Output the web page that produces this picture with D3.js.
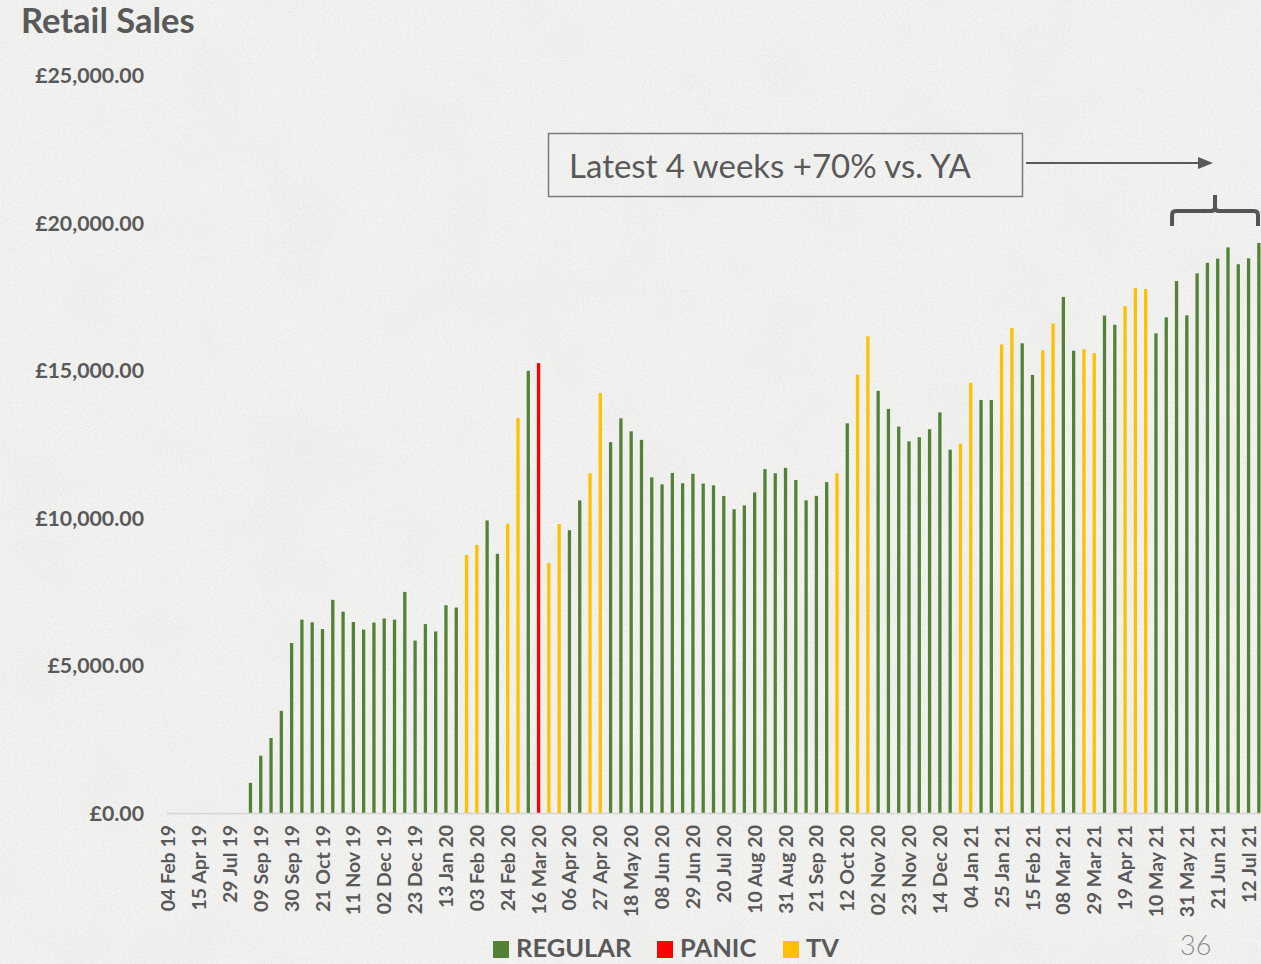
<!DOCTYPE html>
<html>
<head>
<meta charset="utf-8">
<script src="https://cdn.jsdelivr.net/npm/d3@7"></script>
<style>
  body { margin: 0; background: #f2f2f1; }
  svg { display: block; }
</style>
</head>
<body>
<svg id="chart" width="1261" height="964"></svg>
<script>
// ---- Data -------------------------------------------------------------
// Early reporting dates (irregular), then weekly from 02 Sep 19.
const earlyWeeks = ["2019-02-04", "2019-03-04", "2019-03-25", "2019-04-15",
                    "2019-05-20", "2019-06-24", "2019-07-29", "2019-08-19"];
const firstWeeklyDate = "2019-09-02";
const weeklyCount = 99;

// Weekly retail sales (£)
const sales = [
  0, 0, 0, 0, 0, 0, 0, 0,
  1020, 1940, 2540, 3460, 5760, 6550, 6460, 6230, 7220, 6820,
  6470, 6210, 6450, 6590, 6550, 7490, 5840, 6400, 6150, 7040,
  6960, 8740, 9080, 9910, 8780, 9800, 13380, 14980, 15240, 8470,
  9790, 9580, 10590, 11510, 14230, 12560, 13370, 12930, 12640, 11370,
  11130, 11520, 11170, 11490, 11160, 11100, 10740, 10290, 10420, 10860,
  11650, 11510, 11690, 11280, 10590, 10740, 11210, 11510, 13200, 14850,
  16150, 14300, 13690, 13090, 12590, 12730, 13000, 13570, 12310, 12510,
  14570, 13990, 13990, 15870, 16430, 15910, 14840, 15670, 16580, 17480,
  15660, 15710, 15580, 16850, 16540, 17170, 17780, 17750, 16250, 16790,
  18020, 16860, 18280, 18640, 18780, 19160, 18590, 18790, 19310
];

// Weeks with TV advertising and the panic-buying week
const tvWeeks = ["2020-01-27", "2020-02-03", "2020-02-24", "2020-03-02",
                 "2020-03-23", "2020-03-30", "2020-04-20", "2020-04-27",
                 "2020-10-05", "2020-10-19", "2020-10-26", "2020-12-28",
                 "2021-01-04", "2021-01-25", "2021-02-01", "2021-02-22",
                 "2021-03-01", "2021-03-22", "2021-03-29", "2021-04-19",
                 "2021-04-26", "2021-05-03"];
const panicWeeks = ["2020-03-16"];

// Range covered by the "latest weeks" bracket
const bracketFrom = "2021-05-24";

const seriesNames = ["REGULAR", "PANIC", "TV"];
const seriesColors = ["#548235", "#ff0000", "#ffc000"];

const yTicks = [0, 5000, 10000, 15000, 20000, 25000];
const labelEvery = 3;

// ---- Categories ---------------------------------------------------------
const parse = d3.timeParse("%Y-%m-%d");
const fmtKey = d3.timeFormat("%Y-%m-%d");
const fmtLabel = d3.timeFormat("%d %b %y");
const start = parse(firstWeeklyDate);
const weekly = d3.timeMonday.range(start, d3.timeMonday.offset(start, weeklyCount)).map(fmtKey);
const weeks = earlyWeeks.concat(weekly);

const rows = weeks.map((w, i) => ({
  week: w,
  value: sales[i],
  series: panicWeeks.includes(w) ? "PANIC" : (tvWeeks.includes(w) ? "TV" : "REGULAR")
}));
const tickWeeks = weeks.filter((d, i) => i % labelEvery === 0);

// ---- Layout -------------------------------------------------------------
const svg = d3.select("#chart");
const W = 1261, H = 964;

// paper background
const defs = svg.append("defs");
const grain = defs.append("filter").attr("id", "grain")
  .attr("x", 0).attr("y", 0).attr("width", "100%").attr("height", "100%");
grain.append("feTurbulence").attr("type", "fractalNoise")
  .attr("baseFrequency", 0.85).attr("numOctaves", 2).attr("seed", 7);
grain.append("feColorMatrix").attr("type", "matrix")
  .attr("values", "0 0 0 0 0.35  0 0 0 0 0.35  0 0 0 0 0.35  0 0 0 -2.6 1.45");
const mottle = defs.append("filter").attr("id", "mottle")
  .attr("x", 0).attr("y", 0).attr("width", "100%").attr("height", "100%");
mottle.append("feTurbulence").attr("type", "fractalNoise")
  .attr("baseFrequency", 0.012).attr("numOctaves", 3).attr("seed", 3);
mottle.append("feColorMatrix").attr("type", "matrix")
  .attr("values", "0 0 0 0 0.5  0 0 0 0 0.5  0 0 0 0 0.5  0 0 0 -0.9 0.55");

svg.append("rect").attr("width", W).attr("height", H).attr("fill", "#f3f3f2");
svg.append("rect").attr("width", W).attr("height", H).attr("filter", "url(#mottle)").attr("opacity", 0.12);
svg.append("rect").attr("width", W).attr("height", H).attr("filter", "url(#grain)").attr("opacity", 0.14);

const x = d3.scaleBand().domain(weeks).range([163, 1264]).paddingInner(0.68).paddingOuter(0.34);
const y = d3.scaleLinear().domain([0, 25000]).range([813, 75]);
const color = d3.scaleOrdinal().domain(seriesNames).range(seriesColors);

const textColor = "#595959";
const font = "Lato, 'Open Sans', sans-serif";

// title
svg.append("text").attr("x", 21).attr("y", 33)
  .attr("font-family", font).attr("font-weight", 700).attr("font-size", 34.5)
  .attr("fill", textColor).text("Retail Sales");

// y axis labels
const yAxis = d3.axisLeft(y).tickValues(yTicks).tickSize(0).tickPadding(0)
  .tickFormat(d => "£" + d3.format(",.2f")(d));
const gy = svg.append("g").attr("transform", "translate(144,0)").call(yAxis);
gy.select(".domain").remove();
gy.selectAll("text").attr("font-family", font).attr("font-weight", 700)
  .attr("font-size", 21.3).attr("fill", textColor).attr("dy", "0.35em");

// bars
svg.append("g").selectAll("rect").data(rows).join("rect")
  .attr("x", d => x(d.week))
  .attr("width", x.bandwidth())
  .attr("y", d => y(d.value))
  .attr("height", d => y(0) - y(d.value))
  .attr("fill", d => color(d.series));

// baseline
svg.append("line").attr("x1", 167).attr("x2", W).attr("y1", y(0) + 0.5).attr("y2", y(0) + 0.5)
  .attr("stroke", "#d4d4d4").attr("stroke-width", 1.5);

// x axis labels
const xAxis = d3.axisBottom(x).tickValues(tickWeeks).tickSize(0)
  .tickFormat(d => fmtLabel(parse(d)));
const gx = svg.append("g").attr("transform", `translate(0,${y(0)})`).call(xAxis);
gx.select(".domain").remove();
gx.selectAll("text")
  .attr("font-family", font).attr("font-weight", 700).attr("font-size", 19.5)
  .attr("fill", textColor)
  .attr("text-anchor", "end")
  .attr("transform", "rotate(-90)")
  .attr("x", -12).attr("y", 0).attr("dy", "0.36em");

// annotation box and arrow
svg.append("rect").attr("x", 548.5).attr("y", 133.5).attr("width", 474).attr("height", 63)
  .attr("fill", "none").attr("stroke", "#7a7a7a").attr("stroke-width", 1.5);
svg.append("text").attr("x", 569).attr("y", 178)
  .attr("font-family", font).attr("font-size", 33).attr("fill", textColor)
  .text("Latest 4 weeks +70% vs. YA");
svg.append("line").attr("x1", 1026).attr("x2", 1200).attr("y1", 163).attr("y2", 163)
  .attr("stroke", "#595959").attr("stroke-width", 2);
svg.append("path").attr("d", "M1213,163 L1198,157 L1198,169 Z").attr("fill", "#595959");

// bracket over the latest weeks
const bx0 = x(bracketFrom) + x.bandwidth() / 2 - 4.5;
const bx1 = W - 3;
const bxm = (bx0 + bx1) / 2;
svg.append("path")
  .attr("d", `M${bx0},226 L${bx0},215 Q${bx0},211 ${bx0 + 4},211 L${bxm - 4},211 Q${bxm},211 ${bxm},207 L${bxm},195
              M${bxm},207 Q${bxm},211 ${bxm + 4},211 L${bx1 - 4},211 Q${bx1},211 ${bx1},215 L${bx1},226`)
  .attr("fill", "none").attr("stroke", "#555555").attr("stroke-width", 4);

// legend
const legendX = [493, 657, 783];
const lg = svg.append("g").selectAll("g").data(seriesNames).join("g")
  .attr("transform", (d, i) => `translate(${legendX[i]},0)`);
lg.append("rect").attr("x", 0).attr("y", 941).attr("width", 16).attr("height", 17)
  .attr("fill", d => color(d));
lg.append("text").attr("x", 23).attr("y", 957)
  .attr("font-family", font).attr("font-weight", 700).attr("font-size", 25.5)
  .attr("fill", textColor).text(d => d);

// page number
svg.append("text").attr("x", 1180).attr("y", 955)
  .attr("font-family", font).attr("font-weight", 300).attr("font-size", 27)
  .attr("fill", "#8c8c8c").text("36");
</script>
</body>
</html>
